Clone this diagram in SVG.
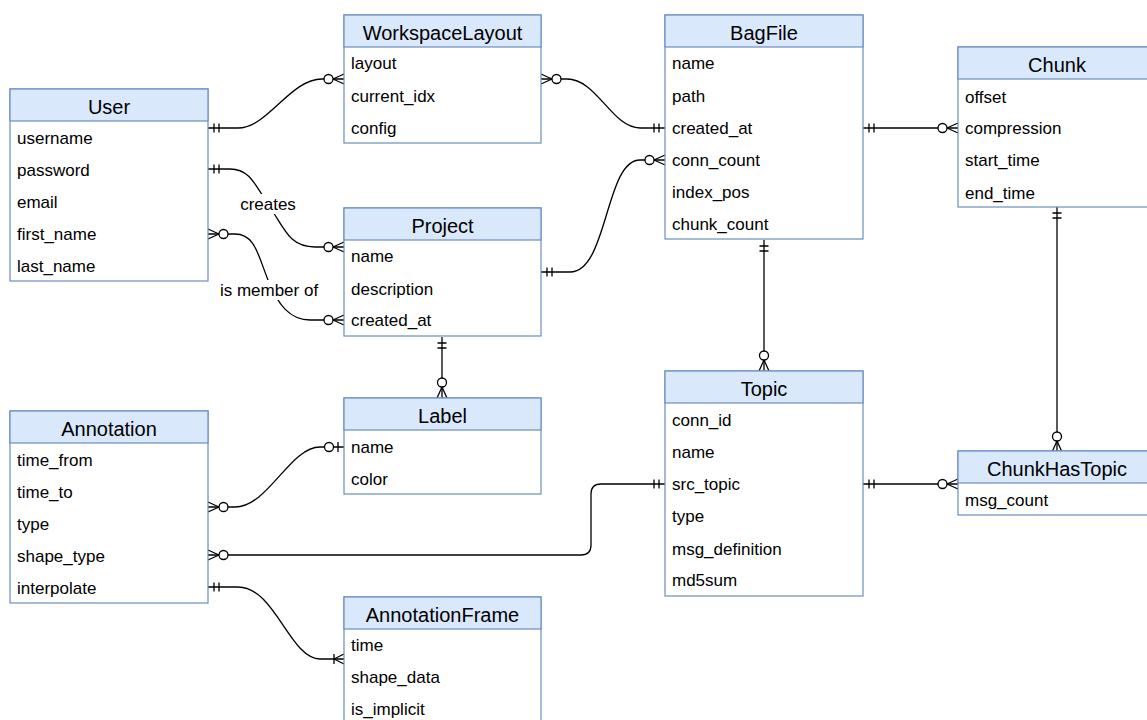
<svg xmlns="http://www.w3.org/2000/svg" width="1147" height="720" viewBox="0 0 1147 720">
<style>
.body{fill:#ffffff;stroke:#6c8ebf;stroke-width:1.2}
.head{fill:#dae8fc;stroke:#6c8ebf;stroke-width:1.2}
.title{font-family:"Liberation Sans",Arial,sans-serif;font-size:20px;fill:#000;text-anchor:middle}
.attr{font-family:"Liberation Sans",Arial,sans-serif;font-size:17px;fill:#000}
.lbl{font-family:"Liberation Sans",Arial,sans-serif;font-size:17px;fill:#000;text-anchor:middle}
.conn{fill:none;stroke:#000;stroke-width:1.3}
.mk{fill:none;stroke:#000;stroke-width:1.3}
.mc{fill:#fff;stroke:#000;stroke-width:1.3}
</style>
<defs>
<marker id="one" markerUnits="userSpaceOnUse" orient="auto-start-reverse" overflow="visible" markerWidth="1" markerHeight="1" refX="0" refY="0">
<path class="mk" d="M-11,-4.5V4.5M-6,-4.5V4.5"/>
</marker>
<marker id="zeroMany" markerUnits="userSpaceOnUse" orient="auto-start-reverse" overflow="visible" markerWidth="1" markerHeight="1" refX="0" refY="0">
<path class="mk" d="M-11,0L0,-5M-11,0L0,5"/>
<circle class="mc" cx="-15.5" cy="0" r="4.5"/>
</marker>
<marker id="zeroOne" markerUnits="userSpaceOnUse" orient="auto-start-reverse" overflow="visible" markerWidth="1" markerHeight="1" refX="0" refY="0">
<path class="mk" d="M-6,-5V5"/>
<circle class="mc" cx="-15" cy="0" r="4.5"/>
</marker>
<marker id="oneMany" markerUnits="userSpaceOnUse" orient="auto-start-reverse" overflow="visible" markerWidth="1" markerHeight="1" refX="0" refY="0">
<path class="mk" d="M-10,-5V5M-10,0L0,-5M-10,0L0,5"/>
</marker>
</defs>
<rect width="1147" height="720" fill="#ffffff"/>

<g id="connectors">
<path class="conn" d="M208,128 H238 C268,128 290,79 322,79 H344" marker-start="url(#one)" marker-end="url(#zeroMany)"/>
<path class="conn" d="M541,79 H567 C597,79 612,128 640,128 H665" marker-start="url(#zeroMany)" marker-end="url(#one)"/>
<path class="conn" d="M208,169 H230 C250,169 255,185 270,207 C285,230 290,247 315,247 H344" marker-start="url(#one)" marker-end="url(#zeroMany)"/>
<path class="conn" d="M208,234 H235 C255,234 258,255 268,280 C278,305 290,320 310,320 H344" marker-start="url(#zeroMany)" marker-end="url(#zeroMany)"/>
<path class="conn" d="M541,272 H570 C608,272 605,160 640,160 H665" marker-start="url(#one)" marker-end="url(#zeroMany)"/>
<path class="conn" d="M863,128 H958" marker-start="url(#one)" marker-end="url(#zeroMany)"/>
<path class="conn" d="M764,240 V371" marker-start="url(#one)" marker-end="url(#zeroMany)"/>
<path class="conn" d="M1057,207 V452" marker-start="url(#one)" marker-end="url(#zeroMany)"/>
<path class="conn" d="M863,484 H958" marker-start="url(#one)" marker-end="url(#zeroMany)"/>
<path class="conn" d="M442,337 V398" marker-start="url(#one)" marker-end="url(#zeroMany)"/>
<path class="conn" d="M208,507 H235 C268,507 290,447 320,447 H344" marker-start="url(#zeroMany)" marker-end="url(#zeroOne)"/>
<path class="conn" d="M208,555 H581 Q591,555 591,545 V494 Q591,484 601,484 H665" marker-start="url(#zeroMany)" marker-end="url(#one)"/>
<path class="conn" d="M208,587 H238 C275,587 290,659 320,659 H344" marker-start="url(#one)" marker-end="url(#oneMany)"/>
<rect x="239" y="194" width="58" height="20" fill="#fff"/>
<text class="lbl" x="268" y="210">creates</text>
<rect x="218" y="280" width="102" height="20" fill="#fff"/>
<text class="lbl" x="269" y="296">is member of</text>
</g>

<g id="User">
<rect class="body" x="10" y="89" width="198" height="192"/>
<rect class="head" x="10" y="89" width="198" height="32"/>
<text class="title" x="109" y="114">User</text>
<text class="attr" x="17" y="144">username</text>
<text class="attr" x="17" y="176">password</text>
<text class="attr" x="17" y="208">email</text>
<text class="attr" x="17" y="240">first_name</text>
<text class="attr" x="17" y="272">last_name</text>
</g>

<g id="WorkspaceLayout">
<rect class="body" x="344" y="15" width="197" height="128"/>
<rect class="head" x="344" y="15" width="197" height="32"/>
<text class="title" x="442.5" y="40">WorkspaceLayout</text>
<text class="attr" x="351" y="69">layout</text>
<text class="attr" x="351" y="102">current_idx</text>
<text class="attr" x="351" y="134">config</text>
</g>

<g id="BagFile">
<rect class="body" x="665" y="15" width="198" height="224"/>
<rect class="head" x="665" y="15" width="198" height="32"/>
<text class="title" x="764" y="40">BagFile</text>
<text class="attr" x="672" y="69">name</text>
<text class="attr" x="672" y="102">path</text>
<text class="attr" x="672" y="134">created_at</text>
<text class="attr" x="672" y="166">conn_count</text>
<text class="attr" x="672" y="198">index_pos</text>
<text class="attr" x="672" y="230">chunk_count</text>
</g>

<g id="Chunk">
<rect class="body" x="958" y="47" width="198" height="160"/>
<rect class="head" x="958" y="47" width="198" height="32"/>
<text class="title" x="1057" y="72">Chunk</text>
<text class="attr" x="965" y="103">offset</text>
<text class="attr" x="965" y="134">compression</text>
<text class="attr" x="965" y="166">start_time</text>
<text class="attr" x="965" y="199">end_time</text>
</g>

<g id="Project">
<rect class="body" x="344" y="208" width="197" height="128"/>
<rect class="head" x="344" y="208" width="197" height="32"/>
<text class="title" x="442.5" y="233">Project</text>
<text class="attr" x="351" y="262">name</text>
<text class="attr" x="351" y="295">description</text>
<text class="attr" x="351" y="326">created_at</text>
</g>

<g id="Label">
<rect class="body" x="344" y="398" width="197" height="96"/>
<rect class="head" x="344" y="398" width="197" height="32"/>
<text class="title" x="442.5" y="423">Label</text>
<text class="attr" x="351" y="453">name</text>
<text class="attr" x="351" y="485">color</text>
</g>

<g id="Topic">
<rect class="body" x="665" y="371" width="198" height="225"/>
<rect class="head" x="665" y="371" width="198" height="32"/>
<text class="title" x="764" y="396">Topic</text>
<text class="attr" x="672" y="426">conn_id</text>
<text class="attr" x="672" y="458">name</text>
<text class="attr" x="672" y="490">src_topic</text>
<text class="attr" x="672" y="522">type</text>
<text class="attr" x="672" y="555">msg_definition</text>
<text class="attr" x="672" y="586">md5sum</text>
</g>

<g id="ChunkHasTopic">
<rect class="body" x="958" y="451" width="198" height="64"/>
<rect class="head" x="958" y="451" width="198" height="32"/>
<text class="title" x="1057" y="476">ChunkHasTopic</text>
<text class="attr" x="965" y="506">msg_count</text>
</g>

<g id="Annotation">
<rect class="body" x="10" y="411" width="198" height="192"/>
<rect class="head" x="10" y="411" width="198" height="32"/>
<text class="title" x="109" y="436">Annotation</text>
<text class="attr" x="17" y="466">time_from</text>
<text class="attr" x="17" y="498">time_to</text>
<text class="attr" x="17" y="530">type</text>
<text class="attr" x="17" y="562">shape_type</text>
<text class="attr" x="17" y="594">interpolate</text>
</g>

<g id="AnnotationFrame">
<rect class="body" x="344" y="597" width="197" height="128"/>
<rect class="head" x="344" y="597" width="197" height="32"/>
<text class="title" x="442.5" y="622">AnnotationFrame</text>
<text class="attr" x="351" y="651">time</text>
<text class="attr" x="351" y="683">shape_data</text>
<text class="attr" x="351" y="715">is_implicit</text>
</g>
</svg>
